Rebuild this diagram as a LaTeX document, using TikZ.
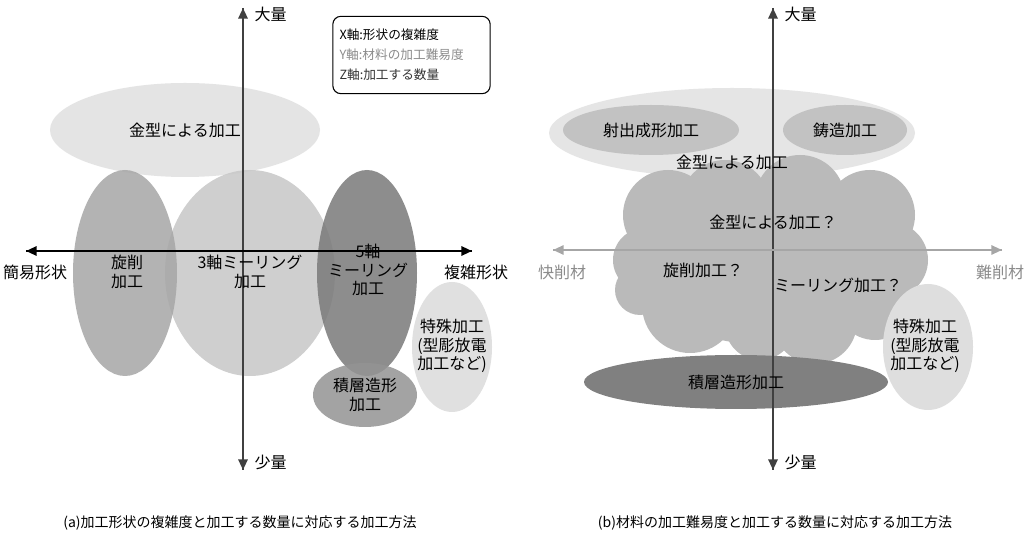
\documentclass[tikz,border=0pt]{standalone}
\usepackage{fontspec}
\setmainfont{Noto Sans CJK JP}
\usetikzlibrary{arrows.meta}
\begin{document}
\begin{tikzpicture}[x=0.75pt,y=-0.75pt,
  blob/.style={fill opacity=0.85,draw=none},
  lbl/.style={font=\fontsize{12}{14}\selectfont,align=center,inner sep=1pt},
  ax/.style={line width=1.6pt,-{Triangle[length=8pt,width=7pt]}},
  gax/.style={ax,draw=gray!70,line width=1.4pt}]
\useasboundingbox[fill=white] (0,0) rectangle (1024,555);
% left panel
\fill[blob,fill=black!12] (185,130) ellipse [x radius=135,y radius=47];
\fill[blob,fill=black!22] (250,273) ellipse [x radius=85,y radius=103];
\fill[blob,fill=black!35] (125,273) ellipse [x radius=52,y radius=103];
\fill[blob,fill=black!52] (367,273) ellipse [x radius=50,y radius=103];
\fill[blob,fill=black!14] (452,347) ellipse [x radius=40,y radius=65];
\fill[blob,fill=black!42] (365,395) ellipse [x radius=52,y radius=32];
\coordinate (lb) at (243,470); \coordinate (lt) at (243,8);
\coordinate (ll) at (26,251); \coordinate (lr) at (472,251);
\draw[ax,draw=black!75] (lt) -- (lb); \draw[ax,draw=black!75] (lb) -- (lt);
\draw[ax] (lr) -- (ll); \draw[ax] (ll) -- (lr);
\node[lbl] (a1) at (185,130) {金型による加工};
\node[lbl] (a2) at (127,272) {旋削\\加工};
\node[lbl] (a3) at (250,272) {3軸ミーリング\\加工};
\node[lbl] (a4) at (368,270) {5軸\\ミーリング\\加工};
\node[lbl] (a5) at (365,395) {積層造形\\加工};
\node[lbl] (a6) at (452,346) {特殊加工\\(型彫放電\\加工など)};
\node[lbl,anchor=west] (a7) at (253,14) {大量};
\node[lbl,anchor=west] (a8) at (253,462) {少量};
\node[lbl] (a9) at (35,272) {簡易形状};
\node[lbl] (a10) at (476,272) {複雑形状};
\node[draw,rounded corners=6pt,line width=0.8pt,align=left,font=\fontsize{9.5}{15}\selectfont,minimum width=118pt,minimum height=58pt,text width=108pt] (leg) at (411.5,55)
 {X軸:形状の複雑度\\\textcolor{black!45}{Y軸:材料の加工難易度}\\\textcolor{black!80}{Z軸:加工する数量}};
% right panel
\fill[fill=black!10] (732,133) ellipse [x radius=183,y radius=45];
\fill[fill=black!24] (651,130) ellipse [x radius=88,y radius=25];
\fill[fill=black!24] (845,130) ellipse [x radius=62,y radius=25];
\begin{scope}[fill=black!27]
\fill (770,265) ellipse [x radius=140,y radius=80];
\fill (668,215) circle (45); \fill (725,205) circle (45); \fill (800,200) circle (45);
\fill (870,215) circle (45); \fill (890,260) circle (38); \fill (875,300) circle (40);
\fill (815,322) circle (42); \fill (760,325) circle (35); \fill (690,305) circle (48);
\fill (645,260) circle (32); \fill (640,290) circle (25);
\end{scope}
\fill[fill=black!50] (736,382) ellipse [x radius=152,y radius=27];
\fill[fill=black!13] (928,347) ellipse [x radius=45,y radius=63];
\coordinate (rb) at (773,470); \coordinate (rt) at (773,8);
\coordinate (rl) at (553,250); \coordinate (rr) at (1002,250);
\draw[ax,draw=black!75] (rt) -- (rb); \draw[ax,draw=black!75] (rb) -- (rt);
\draw[gax] (rr) -- (rl); \draw[gax] (rl) -- (rr);
\node[lbl] (b1) at (651,130) {射出成形加工};
\node[lbl] (b2) at (845,130) {鋳造加工};
\node[lbl] (b3) at (732,162) {金型による加工};
\node[lbl] (b4) at (773,222) {金型による加工？};
\node[lbl] (b5) at (703,270) {旋削加工？};
\node[lbl] (b6) at (838,285) {ミーリング加工？};
\node[lbl] (b7) at (736,382) {積層造形加工};
\node[lbl] (b8) at (925,346) {特殊加工\\(型彫放電\\加工など)};
\node[lbl,anchor=west] (b9) at (783,14) {大量};
\node[lbl,anchor=west] (b10) at (783,462) {少量};
\node[lbl,text=black!45] (b11) at (562,272) {快削材};
\node[lbl,text=black!45] (b12) at (1000,272) {難削材};
% captions
\node[font=\fontsize{10.5}{12}\selectfont] (c1) at (240,523) {(a)加工形状の複雑度と加工する数量に対応する加工方法};
\node[font=\fontsize{10.5}{12}\selectfont] (c2) at (775,523) {(b)材料の加工難易度と加工する数量に対応する加工方法};
\end{tikzpicture}
\end{document}
